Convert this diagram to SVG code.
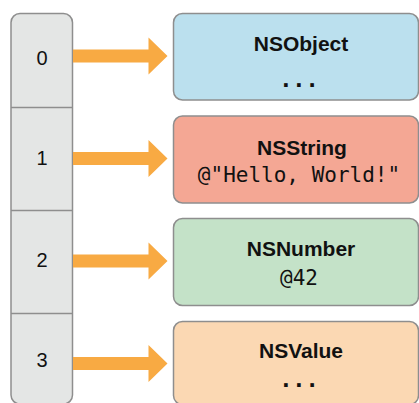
<svg xmlns="http://www.w3.org/2000/svg" width="419" height="403" viewBox="0 0 419 403">
<style>
.cell{fill:#e4e6e5;stroke:#8e8e8e;stroke-width:1.5}
.div{stroke:#8e8e8e;stroke-width:1.5}
.box{stroke:#8e8e8e;stroke-width:1.5}
.idx{font-family:"Liberation Sans",Arial,sans-serif;font-size:20px;fill:#111;text-anchor:middle}
.title{font-family:"Liberation Sans",Arial,sans-serif;font-size:21px;font-weight:bold;fill:#111;text-anchor:middle}
.mono{font-family:"DejaVu Sans Mono",monospace;font-size:21px;fill:#111;text-anchor:middle}
.dots{font-family:"DejaVu Sans Mono",monospace;font-size:22px;font-weight:bold;fill:#111;text-anchor:middle}
.arrow{fill:#f8aa43}
</style>
<rect width="419" height="403" fill="#ffffff"/>
<g id="array">
<rect class="cell" x="11" y="13.5" width="61.5" height="390.5" rx="9"/>
<line class="div" x1="11" y1="107.5" x2="72.5" y2="107.5"/>
<line class="div" x1="11" y1="210.5" x2="72.5" y2="210.5"/>
<line class="div" x1="11" y1="313.5" x2="72.5" y2="313.5"/>
<text class="idx" x="42" y="65">0</text>
<text class="idx" x="42" y="165">1</text>
<text class="idx" x="42" y="267">2</text>
<text class="idx" x="42" y="367">3</text>
</g>
<g id="connectors">
<polygon class="arrow" points="73,49.5 148.5,49.5 148.5,37.5 167.5,56 148.5,74.5 148.5,62.5 73,62.5"/>
<polygon class="arrow" points="73,152 148.5,152 148.5,140 167.5,158.5 148.5,177 148.5,165 73,165"/>
<polygon class="arrow" points="73,254.5 148.5,254.5 148.5,242.5 167.5,261 148.5,279.5 148.5,267.5 73,267.5"/>
<polygon class="arrow" points="73,357 148.5,357 148.5,345 167.5,363.5 148.5,382 148.5,370 73,370"/>
</g>
<g id="nsobject">
<rect class="box" x="173.5" y="13.5" width="245" height="86.5" rx="9" fill="#bbe0ee"/>
<text class="title" x="301" y="51">NSObject</text>
<text class="dots" x="299" y="87">...</text>
</g>
<g id="nsstring">
<rect class="box" x="173.5" y="116" width="245" height="87" rx="9" fill="#f4a794"/>
<text class="title" x="302" y="155">NSString</text>
<text class="mono" x="299" y="182">@"Hello, World!"</text>
</g>
<g id="nsnumber">
<rect class="box" x="173.5" y="218.5" width="245" height="87" rx="9" fill="#c4e2c8"/>
<text class="title" x="301" y="256">NSNumber</text>
<text class="mono" x="299" y="285">@42</text>
</g>
<g id="nsvalue">
<rect class="box" x="173.5" y="321.5" width="245" height="83" rx="9" fill="#fbd8b3"/>
<text class="title" x="301" y="358">NSValue</text>
<text class="dots" x="299" y="387">...</text>
</g>
</svg>
